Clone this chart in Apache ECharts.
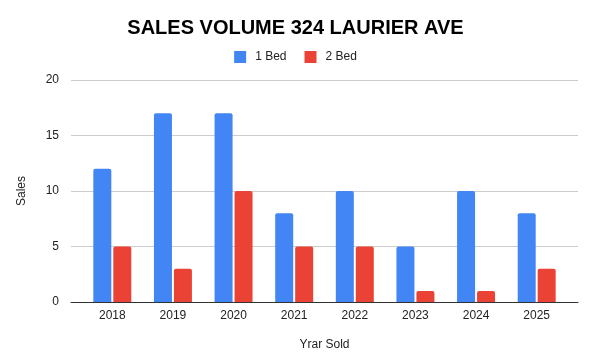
<!DOCTYPE html>
<html><head><meta charset="utf-8">
<script src="https://cdn.jsdelivr.net/npm/echarts@6/dist/echarts.min.js"></script>
<style>html,body{margin:0;padding:0;background:#fff}#c{width:591px;height:360px}</style>
</head><body><div id="c"></div>
<script>
const years = ['2018','2019','2020','2021','2022','2023','2024','2025'];
const oneBed = [12,17,17,8,10,5,10,8];
const twoBed = [5,3,10,5,5,1,1,3];
const yMin = 0, yMax = 20, yStep = 5;
const chart = echarts.init(document.getElementById('c'));
const font = 'Arial, "Liberation Sans", sans-serif';
chart.setOption({
  animation:false,
  textStyle:{fontFamily:font},
  title:{text:'SALES VOLUME 324 LAURIER AVE',left:'center',top:13,
    textStyle:{fontSize:20,fontWeight:'bold',color:'#000',fontFamily:font}},
  legend:{top:46,left:'center',itemWidth:12,itemHeight:12,itemGap:18,icon:'rect',
    textStyle:{fontSize:12,color:'#222',padding:[0,0,0,4]},data:['1 Bed','2 Bed']},
  grid:[
    {left:71,right:13,top:80,bottom:58},
    {left:82,right:24,top:80,bottom:58}
  ],
  xAxis:[
    {type:'value',gridIndex:0,min:0,max:1,show:true,axisLabel:{show:false},axisTick:{show:false},
      splitLine:{show:false},axisLine:{show:true,lineStyle:{color:'#333'}}},
    {type:'category',gridIndex:1,data:years,name:'Yrar Sold',nameLocation:'middle',nameGap:37,
      nameTextStyle:{fontSize:12,color:'#222'},
      axisLine:{show:false},axisTick:{show:false},
      axisLabel:{fontSize:12,color:'#222',margin:8}}
  ],
  yAxis:[
    {type:'value',gridIndex:0,min:yMin,max:yMax,interval:yStep,name:'Sales',nameLocation:'middle',nameGap:43,
      nameTextStyle:{fontSize:12,color:'#222'},
      axisLabel:{fontSize:12,color:'#222',margin:12},
      splitLine:{lineStyle:{color:'#ccc'}},axisLine:{show:false},axisTick:{show:false}},
    {type:'value',gridIndex:1,min:yMin,max:yMax,interval:yStep,show:false,splitLine:{show:false}}
  ],
  series:[
    {name:'1 Bed',type:'bar',xAxisIndex:1,yAxisIndex:1,data:oneBed,barWidth:18,barGap:'11%',z:1,
      itemStyle:{color:'#4285f4',borderRadius:[2,2,0,0]}},
    {name:'2 Bed',type:'bar',xAxisIndex:1,yAxisIndex:1,data:twoBed,barWidth:18,z:1,
      itemStyle:{color:'#ea4335',borderRadius:[2,2,0,0]}}
  ]
});
</script></body></html>
